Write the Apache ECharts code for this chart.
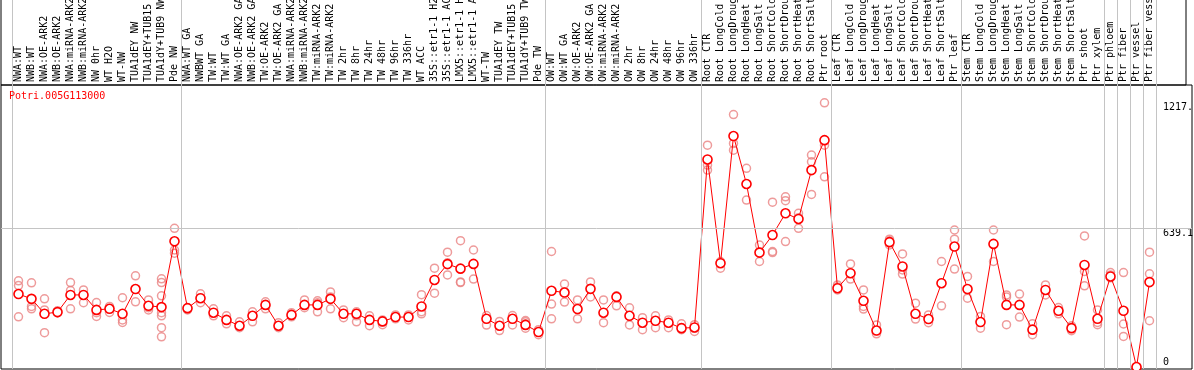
<!DOCTYPE html>
<html>
<head>
<meta charset="utf-8">
<script src="https://cdn.jsdelivr.net/npm/echarts@6/dist/echarts.min.js"></script>
<style>
html,body{margin:0;padding:0;background:#fff;}
#chart{width:1194px;height:370px;}
</style>
</head>
<body>
<div id="chart"></div>
<script>
const geneName = "Potri.005G113000";

const categories = [
  "NWA:WT","NWB:WT","NWA:OE-ARK2","NWB:OE-ARK2","NWA:miRNA-ARK2","NWB:miRNA-ARK2","NW 0hr","WT H2O","WT-NW","TUA1dEY NW","TUA1dEY+TUB15","TUA1dY+TUB9 NW","Pde NW",
  "NWA:WT GA","NWBWT GA","TW:WT","TW:WT GA","NWA:OE-ARK2 GA","NWB:OE-ARK2 GA","TW:OE-ARK2","TW:OE-ARK2 GA","NWA:miRNA-ARK2 GA","NWB:miRNA-ARK2 GA","TW:miRNA-ARK2","TW:miRNA-ARK2 GA","TW 2hr","TW 8hr","TW 24hr","TW 48hr","TW 96hr","TW 336hr","WT ACC","35S::etr1-1 H2O","35S::etr1-1 ACC","LMX5::etr1-1 H2O","LMX5::etr1-1 ACC","WT-TW","TUA1dEY TW","TUA1dEY+TUB15","TUA1dY+TUB9 TW","Pde TW",
  "OW:WT","OW:WT GA","OW:OE-ARK2","OW:OE-ARK2 GA","OW:miRNA-ARK2","OW:miRNA-ARK2 GA","OW 2hr","OW 8hr","OW 24hr","OW 48hr","OW 96hr","OW 336hr",
  "Root CTR","Root LongCold","Root LongDrought","Root LongHeat","Root LongSalt","Root ShortCold","Root ShortDrought","Root ShortHeat","Root ShortSalt","Ptr root",
  "Leaf CTR","Leaf LongCold","Leaf LongDrought","Leaf LongHeat","Leaf LongSalt","Leaf ShortCold","Leaf ShortDrought","Leaf ShortHeat","Leaf ShortSalt","Ptr leaf",
  "Stem CTR","Stem LongCold","Stem LongDrought","Stem LongHeat","Stem LongSalt","Stem ShortCold","Stem ShortDrought","Stem ShortHeat","Stem ShortSalt","Ptr shoot","Ptr xylem",
  "Ptr phloem","Ptr fiber","Ptr vessel","Ptr fiber vessel"
];

// group boundaries (category index where a new group starts; last = end)
const groupBreaks = [0, 13, 41, 53, 63, 73, 84, 85, 86, 87, 88];

const means = [
  336,314,245,253,332,332,263,268,245,359,282,276,579,
  271,317,250,217,190,236,286,190,240,286,286,314,245,245,217,210,230,230,279,401,474,453,475,222,190,222,194,161,
  351,343,267,360,250,323,236,204,213,204,179,182,
  956,478,1064,843,527,608,708,682,907,1045,
  363,432,305,168,575,463,245,221,386,555,
  359,207,567,286,286,172,355,259,179,470,222,
  417,259,0,391
];

const replicates = [
  [397,375,231],[388,279,268],[314,263,158],[250,259,250],[389,352,268],[355,332,296],[297,250,233],[279,251,268],[319,217,205],[420,300,360],[309,263,273],[406,389,328,250,236,181,139],[639,539,524],
  [263,273,268],[337,296,319],[268,236,250],[236,199,217],[208,181,190],[236,208,254],[300,268,286],[204,181,190],[250,231,240],[309,273,286],[305,254,296],[346,268,323],[263,227,245],[254,208,236],[236,190,217],[195,217,208],[240,222,231],[217,240,231],[333,255,245],[455,340,401],[529,424,480],[582,389,392],[539,405,475],[237,193,222],[210,168,190],[237,194,222],[214,179,208,199],[172,149,162],
  [532,290,222],[382,299,346],[309,222,268],[392,323,360],[309,204,250],[328,282,323],[273,194,236],[227,172,204],[236,181,213],[217,181,204],[199,172,181],[195,164,179],
  [1022,930,907],[486,455,480],[1163,1030,999],[915,769,843],[562,486,530],[759,532,527],[784,766,578],[708,639,687],[976,945,795],[1217,1022,876],
  [378,355,369],[475,405,434],[355,279,267],[194,153,167],[589,581,562],[521,428,447],[294,221,245],[240,204,222],[486,282,388],[631,589,451],
  [417,317,355],[233,179,208],[631,486,567],[332,322,195],[336,230,286],[199,149,172],[378,332,355],[274,245,259],[190,167,181],[604,440,374],[263,205,195],
  [435,424,411],[435,198,141],[0,0,0],[529,429,213]
];

const yMax = 1299;
const yTickValues = [639.1, 1217];
const yTickLabels = ["639.1", "1217."];
const yZeroValue = [0];
const yZeroLabel = ["0"];
const gridLineValue = 639.1;

const repData = [];
replicates.forEach((arr, i) => arr.forEach(v => repData.push([i, v])));

const mono = "DejaVu Sans Mono";
const chart = echarts.init(document.getElementById('chart'), null, {renderer: 'canvas'});

const hiddenAxis = (extra) => Object.assign({
  show: false, axisLine:{show:false}, axisTick:{show:false}, axisLabel:{show:false}, splitLine:{show:false}
}, extra);

chart.setOption({
  animation: false,
  backgroundColor: '#ffffff',
  title: {
    text: geneName, left: 9, top: 91, padding: 0,
    textStyle: {color: '#ff0000', fontSize: 10, fontWeight: 'normal', fontFamily: mono}
  },
  grid: [
    {left: 12, right: 38, top: 85, height: 282, outerBoundsMode: 'none', containLabel: false},
    {left: 12, right: 38, top: 0, bottom: 1, outerBoundsMode: 'none', containLabel: false},
    {left: 1, right: 2, top: 85, height: 282, outerBoundsMode: 'none', containLabel: false},
    {left: 1, right: 2, top: 85, bottom: 1, show: true, borderColor: '#000', borderWidth: 1, backgroundColor: 'transparent', outerBoundsMode: 'none', containLabel: false},
    {left: 1, width: 1185, top: -2, height: 87, show: true, borderColor: '#000', borderWidth: 1, backgroundColor: 'transparent', outerBoundsMode: 'none', containLabel: false}
  ],
  xAxis: [
    {
      type: 'category', gridIndex: 0, position: 'top', data: categories, boundaryGap: true,
      axisLine: {show: false}, axisTick: {show: false}, splitLine: {show: false},
      axisLabel: {
        rotate: 90, interval: 0, margin: 3, color: '#000', fontSize: 10, fontFamily: mono,
        hideOverlap: false, padding: [4, 0, 0, 0]
      }
    },
    hiddenAxis({type: 'value', gridIndex: 1, min: 0, max: categories.length}),
    hiddenAxis({type: 'value', gridIndex: 2, min: 0, max: 1}),
    hiddenAxis({type: 'value', gridIndex: 3, min: 0, max: 1}),
    hiddenAxis({type: 'value', gridIndex: 4, min: 0, max: 1})
  ],
  yAxis: [
    {
      type: 'value', gridIndex: 0, position: 'right', min: 0, max: yMax,
      axisLine: {show: false}, axisTick: {show: false}, splitLine: {show: false},
      axisLabel: {
        customValues: yTickValues, margin: 7, align: 'left', verticalAlign: 'top',
        color: '#000', fontSize: 10, fontFamily: mono,
        formatter: (v) => { const k = yTickValues.indexOf(v); return k >= 0 ? yTickLabels[k] : ''; }
      }
    },
    {
      type: 'value', gridIndex: 0, position: 'right', min: 0, max: yMax,
      axisLine: {show: false}, axisTick: {show: false}, splitLine: {show: false},
      axisLabel: {
        customValues: yZeroValue, margin: 7, align: 'left', verticalAlign: 'bottom',
        color: '#000', fontSize: 10, fontFamily: mono,
        formatter: (v) => { const k = yZeroValue.indexOf(v); return k >= 0 ? yZeroLabel[k] : ''; }
      }
    },
    hiddenAxis({type: 'value', gridIndex: 1, min: 0, max: 1}),
    hiddenAxis({type: 'value', gridIndex: 2, min: 0, max: yMax}),
    hiddenAxis({type: 'value', gridIndex: 3, min: 0, max: 1}),
    hiddenAxis({type: 'value', gridIndex: 4, min: 0, max: 1})
  ],
  series: [
    {
      type: 'line', xAxisIndex: 1, yAxisIndex: 2, data: [], silent: true, z: 1,
      markLine: {
        silent: true, symbol: ['none', 'none'], label: {show: false},
        lineStyle: {color: '#c4c4c4', type: 'solid', width: 1},
        data: groupBreaks.map(b => ({xAxis: b}))
      }
    },
    {
      type: 'line', xAxisIndex: 2, yAxisIndex: 3, data: [], silent: true, z: 1,
      markLine: {
        silent: true, symbol: ['none', 'none'], label: {show: false},
        lineStyle: {color: '#c4c4c4', type: 'solid', width: 1},
        data: [{yAxis: gridLineValue}]
      }
    },
    {
      type: 'scatter', xAxisIndex: 0, yAxisIndex: 0, data: repData, z: 3,
      symbol: 'circle', symbolSize: 8,
      itemStyle: {color: 'rgba(0,0,0,0)', borderColor: '#ea8282', borderWidth: 1.5}
    },
    {
      type: 'line', xAxisIndex: 0, yAxisIndex: 0, data: means, z: 4,
      symbol: 'circle', symbolSize: 9, clip: false,
      lineStyle: {color: '#ff0000', width: 1},
      itemStyle: {color: '#ffffff', borderColor: '#ff0000', borderWidth: 1.6}
    }
  ]
});
</script>
</body>
</html>
